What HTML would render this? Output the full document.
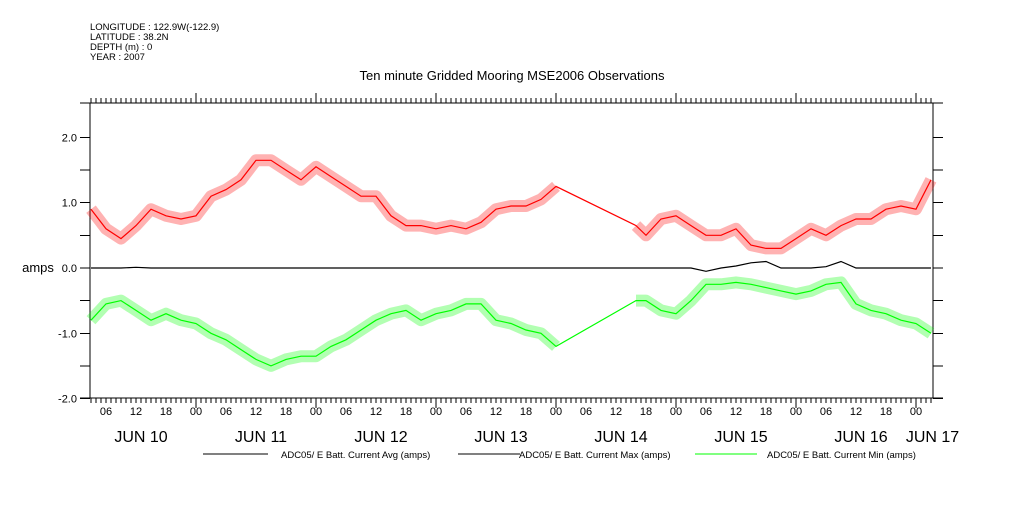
<!DOCTYPE html>
<html><head><meta charset="utf-8"><style>
body{margin:0;background:#fff;}
svg text{font-family:"Liberation Sans",sans-serif;fill:#000;}
</style></head><body>
<svg id="chart" width="1009" height="504" viewBox="0 0 1009 504" xmlns="http://www.w3.org/2000/svg">
<g font-size="9.5">
<text x="90" y="30">LONGITUDE : 122.9W(-122.9)</text>
<text x="90" y="40">LATITUDE : 38.2N</text>
<text x="90" y="50">DEPTH (m) : 0</text>
<text x="90" y="60">YEAR : 2007</text>
</g>
<text x="512" y="80" font-size="13" text-anchor="middle">Ten minute Gridded Mooring MSE2006 Observations</text>
<text x="38" y="272" font-size="13" text-anchor="middle">amps</text>
<g id="axes"></g>
<g id="series"></g>
<g font-size="9.5">
<line x1="203" y1="454" x2="268" y2="454" stroke="#000"/>
<text x="281" y="458">ADC05/ E Batt. Current Avg (amps)</text>
<line x1="458" y1="454" x2="520" y2="454" stroke="#000"/>
<text x="519" y="458">ADC05/ E Batt. Current Max (amps)</text>
<line x1="695" y1="454" x2="757" y2="454" stroke="#0f0"/>
<text x="767" y="458">ADC05/ E Batt. Current Min (amps)</text>
</g>
</svg>
<script>
const hours=[3,6,9,12,15,18,21,24,27,30,33,36,39,42,45,48,51,54,57,60,63,66,69,72,75,78,81,84,87,90,93,96,112,114,117,120,123,126,129,132,135,138,141,144,147,150,153,156,159,162,165,168,171];
const maxVals=[0.9,0.6,0.45,0.65,0.9,0.8,0.75,0.8,1.1,1.2,1.35,1.65,1.65,1.5,1.35,1.55,1.4,1.25,1.1,1.1,0.8,0.65,0.65,0.6,0.65,0.6,0.7,0.9,0.95,0.95,1.05,1.25,0.65,0.5,0.75,0.8,0.65,0.5,0.5,0.6,0.35,0.3,0.3,0.45,0.6,0.5,0.65,0.75,0.75,0.9,0.95,0.9,1.35];
const minVals=[-0.8,-0.55,-0.5,-0.65,-0.8,-0.7,-0.8,-0.85,-1.0,-1.1,-1.25,-1.4,-1.5,-1.4,-1.35,-1.35,-1.2,-1.1,-0.95,-0.8,-0.7,-0.65,-0.8,-0.7,-0.65,-0.55,-0.55,-0.8,-0.85,-0.95,-1.0,-1.2,-0.5,-0.5,-0.65,-0.7,-0.5,-0.25,-0.25,-0.22,-0.25,-0.3,-0.35,-0.4,-0.35,-0.25,-0.22,-0.55,-0.65,-0.7,-0.8,-0.85,-1.0];
const avgVals=[0,0,0,0.01,0,0,0,0,0,0,0,0,0,0,0,0,0,0,0,0,0,0,0,0,0,0,0,0,0,0,0,0,0,0,0,0,0,-0.05,0,0.03,0.08,0.1,0,0,0,0.02,0.1,0,0,0,0,0,0];
const yTicks=[-2,-1,0,1,2];
const yTickLabels=["-2.0","-1.0","0.0","1.0","2.0"];
const hourLabels=["00","06","12","18"];
const dayLabels=["JUN 10","JUN 11","JUN 12","JUN 13","JUN 14","JUN 15","JUN 16","JUN 17"];

const X0=90,X1=933,Y0=103,Y1=398;
const xs=h=>76+5*h;
const ys=v=>268-65.3*v;
const NS="http://www.w3.org/2000/svg";
function mk(tag,attrs,parent){const e=document.createElementNS(NS,tag);for(const k in attrs)e.setAttribute(k,attrs[k]);parent.appendChild(e);return e;}
const ax=document.getElementById('axes');


let d=`M${X0} ${Y0}V${Y1}M${X1} ${Y0}V${Y1}M80 ${Y1}H943M80 ${Y0}H943`;
for(let h=Math.ceil((X0-76)/5);xs(h)<=X1;h++){const x=xs(h);const L=h%24===0?10:5;d+=`M${x} ${Y1}v${L}M${x} ${Y0}v${-L}`;}
for(let v=-2;v<=2;v+=0.5){const y=ys(v);d+=`M80 ${y}H${X0}M${X1} ${y}H943`;}
const axp=mk('path',{d:d,stroke:'#000','stroke-width':1,fill:'none','shape-rendering':'crispEdges'},ax);


yTicks.forEach((v,i)=>{const t=mk('text',{x:77,y:ys(v)+4,'font-size':11,'text-anchor':'end'},ax);t.textContent=yTickLabels[i];

});
for(let h=6;xs(h)<=X1;h+=6){const t=mk('text',{x:xs(h),y:415,'font-size':11,'text-anchor':'middle'},ax);t.textContent=hourLabels[(h/6)%4];

}
dayLabels.forEach((s,i)=>{let c=xs(12+24*i)+5;if(i===7)c=(xs(168)+X1)/2+8;const t=mk('text',{x:c,y:442,'font-size':16,'text-anchor':'middle'},ax);t.textContent=s;

});
const sg=document.getElementById('series');


function drawSeries(vals,color,name,band){
 const P=hours.map((h,i)=>xs(h).toFixed(1)+','+ys(vals[i]).toFixed(1));
 if(band){
  // band only on continuous (non-gap) segments
  let segs=[[P[0]]];
  for(let i=1;i<hours.length;i++){if(hours[i]-hours[i-1]>6)segs.push([]);segs[segs.length-1].push(P[i]);}
  segs.forEach(s=>{if(s.length<2)return;const b=mk('polyline',{points:s.join(' '),fill:'none',stroke:color,'stroke-width':band,'stroke-opacity':0.3,'stroke-linejoin':'round'},sg);
  
  });
 }
 const p=mk('polyline',{points:P.join(' '),fill:'none',stroke:color,'stroke-width':1.2},sg);
 
 
}
drawSeries(maxVals,'#f00','series-max',12);
drawSeries(minVals,'#0f0','series-min',12);
drawSeries(avgVals,'#000','series-avg',0);
</script>
</body></html>
